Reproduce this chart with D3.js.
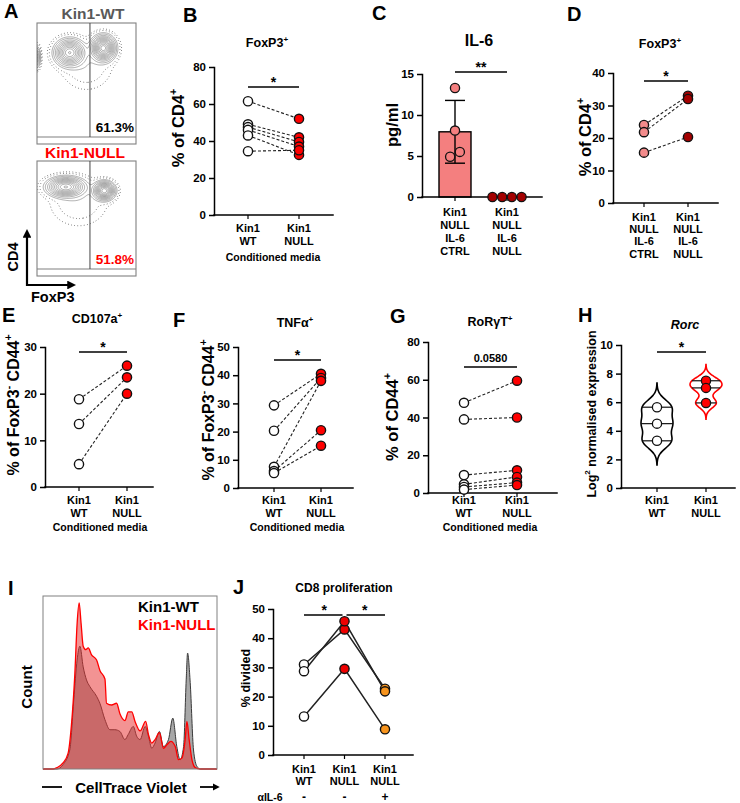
<!DOCTYPE html>
<html><head><meta charset="utf-8">
<script src="https://cdn.jsdelivr.net/npm/d3@7"></script>
<style>
body{margin:0;background:#fff;}
svg{display:block;font-family:"Liberation Sans",Arial,Helvetica,sans-serif;font-weight:bold;}
</style></head><body>
<svg id="fig" width="740" height="803"></svg>
<script>
// ================= DATA =================
// Panel A: flow populations [FoxP3 centre, CD4 centre, spread FoxP3, spread CD4, relative density]
const aTitles = ["Kin1-WT", "Kin1-NULL"];
const aPercents = ["61.3%", "51.8%"];
const aGateFoxP3 = 53.5;
const aWTPopulations = [[33,74,7.5,5.8,1.0],[67,78,6,5.5,1.2],[0,70,2,5,0.35],[50,62,15,12,0.05]];
const aNULLPopulations = [[29,76,9.5,4.5,1.0],[68,72.5,5.3,4.2,1.1],[42,62,17,13,0.05]];
const aContourLevels = [0.012,0.025,0.06,0.1,0.16,0.23,0.31,0.4,0.5,0.61,0.73,0.86,1.0,1.12];

// Panel B
const bCategories = [["Kin1","WT"],["Kin1","NULL"]];
const bTicks = [0,20,40,60,80];
const bWT   = [61.5,49,47.5,46,43,34.5];
const bNULL = [52,42,39.5,37,32.5,35];

// Panel C
const cCategories = [["Kin1","NULL","IL-6","CTRL"],["Kin1","NULL","IL-6","NULL"]];
const cTicks = [0,5,10,15];
const cCTRL = [13.3,8.1,5.5,4.9];
const cNULL = [0,0,0,0];

// Panel D
const dCategories = [["Kin1","NULL","IL-6","CTRL"],["Kin1","NULL","IL-6","NULL"]];
const dTicks = [0,10,20,30,40];
const dCTRL = [24,21.8,15.5];
const dNULL = [33,32,20.3];

// Panel E
const eCategories = [["Kin1","WT"],["Kin1","NULL"]];
const eTicks = [0,10,20,30];
const eWT   = [18.8,13.5,4.9];
const eNULL = [26,23.5,20];

// Panel F
const fCategories = [["Kin1","WT"],["Kin1","NULL"]];
const fTicks = [0,10,20,30,40,50];
const fWT   = [29.3,20.3,7.5,6,5.3];
const fNULL = [40.5,39,38,20.5,15];

// Panel G
const gCategories = [["Kin1","WT"],["Kin1","NULL"]];
const gTicks = [0,20,40,60,80];
const gWT   = [47.8,39,9.5,4.6,3.2,1.8];
const gNULL = [59.5,40,12,8.5,5.5,4.2];

// Panel H
const hCategories = [["Kin1","WT"],["Kin1","NULL"]];
const hTicks = [0,2,4,6,8,10];
const hWT   = [5.65,4.5,3.3];
const hNULL = [7.5,7.0,5.95];

// Panel I (histograms: channel 0-100, count 0-100)
const iChannelWT = [0,8,11.5,15.4,17.7,19.6,21.2,23.1,25,26.9,30.8,32.7,35.6,38.5,41.3,44.2,47.1,49,51.9,53.8,55.8,58.7,60.6,62.5,64.4,66.9,69.2,72.1,74.6,76.9,78.8,80.8,82.3,83.1,84.6,86.5,88.5,90.4,100];
const iCountWT   = [0,0,2.5,11,40,63,71,59,51.5,47.7,42,38,28.5,22.7,22.7,21.7,17,20,24.6,19,17,24.6,19,12,15,21.7,13,17,29.4,13,5.4,13,51.5,67,50,11,1.5,0,0];
const iChannelNULL = [0,6,8,11.5,14.4,16.3,18.3,19.6,20.8,21.9,23.1,24.6,26,27.9,30.8,32.7,35.6,36.5,39.4,42.3,44.2,47.1,49,51,52.9,55.8,59,60.6,62.5,64.4,66.9,69.2,71.2,73.5,76,77.9,79.8,81.7,82.7,84,85.6,87.5,90.4,100];
const iCountNULL   = [0,0,0.8,3.5,9,25,55,84,96,84,71,69,70,66,63,57,52,38,37,38,32,28,33,33,27.5,22,27.5,20,15,17,21,12,14,16,13,5.4,6.3,17,27.5,17,5.4,0.8,0,0];
const iLegend = ["Kin1-WT","Kin1-NULL"];

// Panel J
const jCategories = [["Kin1","WT"],["Kin1","NULL"],["Kin1","NULL"]];
const jTreatment = ["-","-","+"];
const jTicks = [0,10,20,30,40,50];
const jWT      = [31,28.7,13.2];
const jNULL    = [43,45.8,29.5];
const jAntiIL6 = [22.7,21.8,8.8];

// ================= HELPERS =================
const svg = d3.select('#fig');
const RED = '#ff0000';
const defs = svg.append('defs');
defs.append('marker').attr('id', 'arr').attr('viewBox', '0 0 10 10').attr('refX', 2).attr('refY', 5)
  .attr('markerWidth', 4).attr('markerHeight', 4).attr('orient', 'auto-start-reverse')
  .append('path').attr('d', 'M0,0L10,5L0,10Z').attr('fill', '#000');

function rich(t, segs, fs){
  let shift = 0;
  segs.forEach(s => {
    const [txt, kind] = Array.isArray(s) ? s : [s, null];
    const target = kind === 'sup' ? -fs*0.42 : 0;
    const ts = t.append('tspan').text(txt).attr('dy', target - shift);
    if (kind) ts.attr('font-size', fs*0.65);
    shift = target;
  });
  return t;
}
function text(g, x, y, segs, fs, o = {}){
  const t = g.append('text').attr('x', x).attr('y', y).attr('font-size', fs)
    .attr('text-anchor', o.anchor || 'middle').attr('fill', o.fill || '#000');
  if (o.italic) t.attr('font-style', 'italic');
  rich(t, segs, fs);
  return t;
}
function vtext(g, cx, cy, segs, fs){
  const x = cx + fs*0.36;
  const t = g.append('text').attr('x', x).attr('y', cy).attr('font-size', fs)
    .attr('text-anchor', 'middle').attr('transform', `rotate(-90,${x},${cy})`);
  rich(t, segs, fs);
  return t;
}
function styleYAxis(a){
  a.attr('font-family', null).attr('font-size', 11.5).attr('font-weight', 'bold');
  a.select('.domain').attr('stroke', '#000').attr('stroke-width', 1.5).attr('stroke-linecap', 'square');
  a.selectAll('.tick line').attr('stroke', '#000').attr('stroke-width', 1.5);
  a.selectAll('.tick text').attr('fill', '#000');
}
function panelLetter(x, y, l){ text(svg, x, y, [l], 20, {anchor:'start'}); }

function frame(g, c, y, x){
  const ya = g.append('g').attr('transform', `translate(${c.axisX},0)`)
    .call(d3.axisLeft(y).tickValues(c.ticks).tickSize(5).tickSizeOuter(0).tickPadding(3));
  styleYAxis(ya);
  g.append('line').attr('x1', c.axisX).attr('x2', c.xEnd).attr('y1', y(0)).attr('y2', y(0))
    .attr('stroke', '#000').attr('stroke-width', 1.5).attr('stroke-linecap', 'square');
  g.selectAll(null).data(x.domain()).join('line')
    .attr('x1', d => x(d)).attr('x2', d => x(d)).attr('y1', y(0)).attr('y2', y(0) + 4)
    .attr('stroke', '#000').attr('stroke-width', 1.2);
  c.cats.forEach((lines, k) => {
    const t = g.append('text').attr('text-anchor', 'middle').attr('font-size', 11).attr('y', c.catY);
    lines.forEach((l, i) => t.append('tspan').attr('x', x(k)).attr('dy', i ? c.catGap : 0).text(l));
  });
  if (c.footer) text(g, c.footerX, c.footerY, [c.footer], 10.5);
  if (c.title) text(g, c.titleX, c.titleY, c.title, c.titleSize || 12.5, {italic: c.titleItalic});
  vtext(g, c.ylabX, c.ylabY, c.ylab, c.ylabSize || 16.5);
  (c.sig || []).forEach(s => {
    g.append('line').attr('x1', x(s.from) + (s.padL || 0)).attr('x2', x(s.to) - (s.padR || 0))
      .attr('y1', s.y).attr('y2', s.y).attr('stroke', '#000').attr('stroke-width', 1.5);
    text(g, (x(s.from) + x(s.to)) / 2, s.y - (s.up || 0), [s.text], s.size || 14);
  });
}

function pairPanel(c){
  const g = svg.append('g');
  const y = d3.scaleLinear().domain([0, c.yMax]).range([c.y0, c.yTop]);
  const x = d3.scalePoint().domain(d3.range(c.series.length)).range(c.catRange);
  frame(g, c, y, x);
  const n = c.series[0].length;
  const line = d3.line();
  for (let i = 0; i < n; i++) {
    const pts = c.series.map((s, k) => [x(k), y(s[i])]);
    g.append('path').attr('d', line(pts)).attr('fill', 'none').attr('stroke', '#222')
      .attr('stroke-width', c.dashed ? 1.1 : 1.5).attr('stroke-dasharray', c.dashed ? '3,2' : null);
  }
  c.series.forEach((s, k) => {
    g.selectAll(null).data(s).join('circle').attr('cx', x(k)).attr('cy', d => y(d)).attr('r', 4.6)
      .attr('fill', c.fills[k]).attr('stroke', '#111').attr('stroke-width', 1.4);
  });
  return {g, x, y};
}

// ================= PANEL A =================
(function(){
  const g = svg.append('g');
  const boxes = [
    {top: 23, inner: 137, bottom: 144, pops: aWTPopulations, pct: aPercents[0], pctFill: '#000', title: aTitles[0], titleFill: '#595959', titleY: 19, titleX: 93},
    {top: 161, inner: 269, bottom: 276, pops: aNULLPopulations, pct: aPercents[1], pctFill: RED, title: aTitles[1], titleFill: RED, titleY: 158, titleX: 85}
  ];
  const nx = 120, ny = 120;
  boxes.forEach(b => {
    const xs = d3.scaleLinear().domain([0, 100]).range([37, 136]);
    const ys = d3.scaleLinear().domain([0, 100]).range([b.inner, b.top]);
    const vals = new Float64Array(nx * ny);
    for (let j = 0; j < ny; j++) for (let i = 0; i < nx; i++) {
      const fx = (i + 0.5) / nx * 100, cy = 100 - (j + 0.5) / ny * 100;
      let v = 0;
      b.pops.forEach(([mx, my, sx, sy, w]) => {
        v += w * Math.exp(-((fx - mx) ** 2) / (2 * sx * sx) - ((cy - my) ** 2) / (2 * sy * sy));
      });
      vals[i + j * nx] = v;
    }
    const proj = d3.geoTransform({point: function(px, py){ this.stream.point(xs(px / nx * 100), ys(100 - py / ny * 100)); }});
    const path = d3.geoPath(proj);
    const cont = d3.contours().size([nx, ny]).thresholds(aContourLevels)(vals);
    const clipId = 'clip' + b.top;
    g.append('clipPath').attr('id', clipId).append('rect').attr('x', 37).attr('y', b.top).attr('width', 99).attr('height', b.inner - b.top);
    const cg = g.append('g').attr('clip-path', `url(#${clipId})`);
    cg.selectAll(null).data(cont).join('path').attr('d', path).attr('fill', 'none')
      .attr('stroke', d => d.value < 0.05 ? '#222' : '#6a6a6a')
      .attr('stroke-width', d => d.value < 0.05 ? 0.9 : 0.55)
      .attr('stroke-dasharray', d => d.value < 0.05 ? '0.6,2.6' : null);
    g.append('rect').attr('x', 37).attr('y', b.top).attr('width', 99).attr('height', b.bottom - b.top)
      .attr('fill', 'none').attr('stroke', '#808080').attr('stroke-width', 1.1);
    g.append('line').attr('x1', 37).attr('x2', 136).attr('y1', b.inner).attr('y2', b.inner).attr('stroke', '#808080').attr('stroke-width', 1.1);
    g.append('line').attr('x1', xs(aGateFoxP3)).attr('x2', xs(aGateFoxP3)).attr('y1', b.top).attr('y2', b.inner).attr('stroke', '#444').attr('stroke-width', 1);
    text(g, 134, b.inner - 5, [b.pct], 13.5, {anchor: 'end', fill: b.pctFill});
    text(g, b.titleX, b.titleY, [b.title], 15.5, {fill: b.titleFill});
  });
  g.append('path').attr('d', 'M27,236V285H69').attr('fill', 'none').attr('stroke', '#000').attr('stroke-width', 2.2)
    .attr('marker-start', 'url(#arr)').attr('marker-end', 'url(#arr)');
  vtext(g, 13, 257, ['CD4'], 14.5);
  text(g, 31, 302, ['FoxP3'], 14.5, {anchor: 'start'});
})();
panelLetter(4, 18, 'A');

// ================= PANEL B =================
pairPanel({axisX: 214, y0: 215, yTop: 67, yMax: 80, ticks: bTicks, catRange: [248, 299], xEnd: 333,
  series: [bWT, bNULL], fills: ['#fff', RED], dashed: true, cats: bCategories, catY: 232, catGap: 12.5,
  footer: 'Conditioned media', footerX: 273, footerY: 261,
  title: ['FoxP3', ['+', 'sup']], titleX: 267, titleY: 47,
  ylab: ['% of CD4', ['+', 'sup']], ylabX: 178, ylabY: 128,
  sig: [{from: 0, to: 1, y: 87, text: '*', up: 0}]});
panelLetter(183, 22, 'B');

// ================= PANEL C =================
(function(){
  const g = svg.append('g');
  const c = {axisX: 422, xEnd: 542, ticks: cTicks, cats: cCategories, catY: 216, catGap: 13,
    title: ['IL-6'], titleX: 479, titleY: 46, titleSize: 16,
    ylab: ['pg/ml'], ylabX: 392, ylabY: 125,
    sig: [{from: 0, to: 1, y: 72, text: '**', up: 0}]};
  const y = d3.scaleLinear().domain([0, 15]).range([197, 74]);
  const x = d3.scalePoint().domain([0, 1]).range([455, 507]);
  const groups = [cCTRL, cNULL];
  const fills = ['#f47f7f', '#a30000'];
  groups.forEach((vals, k) => {
    const m = d3.mean(vals), sd = d3.deviation(vals);
    if (m > 0) {
      g.append('rect').attr('x', x(k) - 16).attr('width', 32).attr('y', y(m)).attr('height', y(0) - y(m))
        .attr('fill', fills[k]).attr('stroke', '#000').attr('stroke-width', 1.4);
      g.append('line').attr('x1', x(k)).attr('x2', x(k)).attr('y1', y(m + sd)).attr('y2', y(m - sd)).attr('stroke', '#000').attr('stroke-width', 1.4);
      [m + sd, m - sd].forEach(v => g.append('line').attr('x1', x(k) - 10).attr('x2', x(k) + 10).attr('y1', y(v)).attr('y2', y(v)).attr('stroke', '#000').attr('stroke-width', 1.4));
    }
  });
  frame(g, c, y, x);
  groups.forEach((vals, k) => {
    const sorted = vals.map(v => v).sort(d3.ascending);
    const clusters = [];
    sorted.forEach(v => {
      const last = clusters[clusters.length - 1];
      if (last && Math.abs(y(last[last.length - 1]) - y(v)) < 8) last.push(v); else clusters.push([v]);
    });
    clusters.forEach(cl => cl.forEach((v, i) => {
      const off = (i - (cl.length - 1) / 2) * 9.7;
      g.append('circle').attr('cx', x(k) + off).attr('cy', y(v)).attr('r', 4.6)
        .attr('fill', fills[k]).attr('stroke', '#111').attr('stroke-width', 1.3);
    }));
  });
})();
panelLetter(372, 20, 'C');

// ================= PANEL D =================
pairPanel({axisX: 613, y0: 203, yTop: 73, yMax: 40, ticks: dTicks, catRange: [644, 688], xEnd: 718,
  series: [dCTRL, dNULL], fills: ['#f28b8b', '#a30000'], dashed: true, cats: dCategories, catY: 221, catGap: 12.2,
  title: ['FoxP3', ['+', 'sup']], titleX: 660, titleY: 48,
  ylab: ['% of CD4', ['+', 'sup']], ylabX: 585, ylabY: 137,
  sig: [{from: 0, to: 1, y: 81, text: '*', up: 0}]});
panelLetter(567, 21, 'D');

// ================= PANEL E =================
pairPanel({axisX: 45, y0: 487, yTop: 347, yMax: 30, ticks: eTicks, catRange: [79, 127], xEnd: 153,
  series: [eWT, eNULL], fills: ['#fff', RED], dashed: true, cats: eCategories, catY: 504, catGap: 12.5,
  footer: 'Conditioned media', footerX: 100, footerY: 531,
  title: ['CD107a', ['+', 'sup']], titleX: 97, titleY: 323,
  ylab: ['% of FoxP3', ['-', 'sup'], ' CD44', ['+', 'sup']], ylabX: 13, ylabY: 405, ylabSize: 16,
  sig: [{from: 0, to: 1, y: 352, text: '*', up: 0}]});
panelLetter(2, 322, 'E');

// ================= PANEL F =================
pairPanel({axisX: 238, y0: 488, yTop: 347, yMax: 50, ticks: fTicks, catRange: [274, 321], xEnd: 353,
  series: [fWT, fNULL], fills: ['#fff', RED], dashed: true, cats: fCategories, catY: 504, catGap: 12.5,
  footer: 'Conditioned media', footerX: 297, footerY: 531,
  title: ['TNFα', ['+', 'sup']], titleX: 295, titleY: 327,
  ylab: ['% of FoxP3', ['-', 'sup'], ' CD44', ['+', 'sup']], ylabX: 208, ylabY: 410, ylabSize: 16,
  sig: [{from: 0, to: 1, y: 360, text: '*', up: 0}]});
panelLetter(173, 327, 'F');

// ================= PANEL G =================
pairPanel({axisX: 428, y0: 493, yTop: 342, yMax: 80, ticks: gTicks, catRange: [464, 517], xEnd: 557,
  series: [gWT, gNULL], fills: ['#fff', RED], dashed: true, cats: gCategories, catY: 504, catGap: 12.5,
  footer: 'Conditioned media', footerX: 490, footerY: 531,
  title: ['RoRγT', ['+', 'sup']], titleX: 490, titleY: 326,
  ylab: ['% of CD44', ['+', 'sup']], ylabX: 392, ylabY: 417,
  sig: [{from: 0, to: 1, y: 367, text: '0.0580', up: 5, size: 11}]});
panelLetter(390, 323, 'G');

// ================= PANEL H =================
(function(){
  const g = svg.append('g');
  const c = {axisX: 621, xEnd: 735, ticks: hTicks, cats: hCategories, catY: 504, catGap: 12.5,
    title: ['Rorc'], titleX: 685, titleY: 329, titleItalic: true,
    ylab: ['Log', ['2', 'sup'], ' normalised expression'], ylabX: 591, ylabY: 414, ylabSize: 12.5,
    sig: [{from: 0, to: 1, y: 352, text: '*', up: 0}]};
  const y = d3.scaleLinear().domain([0, 10]).range([488, 345]);
  const x = d3.scalePoint().domain([0, 1]).range([657, 706]);
  frame(g, c, y, x);
  const groups = [hWT, hNULL];
  const strokes = ['#000', RED];
  const fills = ['#fff', RED];
  function quart(v){
    const s = [...v].sort(d3.ascending), n = s.length;
    const q = p => { const pos = (n + 1) * p; if (pos <= 1) return s[0]; if (pos >= n) return s[n - 1];
      const lo = Math.floor(pos); return s[lo - 1] + (pos - lo) * (s[lo] - s[lo - 1]); };
    return [q(0.25), q(0.5), q(0.75)];
  }
  groups.forEach((vals, k) => {
    const qs = quart(vals);
    const bw = 0.62 * 0.9 * Math.min(d3.deviation(vals), (qs[2] - qs[0]) / 1.34) * Math.pow(vals.length, -0.2);
    const dens = t => d3.sum(vals, v => Math.exp(-0.5 * ((t - v) / bw) ** 2));
    const lo = d3.min(vals) - 3.2 * bw, hi = d3.max(vals) + 3.2 * bw;
    const grid = d3.range(0, 81).map(i => lo + (hi - lo) * i / 80);
    const maxD = d3.max(grid, dens);
    const w = d3.scaleLinear().domain([0, maxD]).range([0, 16]);
    const area = d3.area().y(t => y(t)).x0(t => x(k) - w(dens(t))).x1(t => x(k) + w(dens(t))).curve(d3.curveBasis);
    g.append('path').attr('d', area(grid)).attr('fill', '#fff').attr('stroke', strokes[k]).attr('stroke-width', 1.6);
    qs.forEach(q => g.append('line').attr('x1', x(k) - w(dens(q))).attr('x2', x(k) + w(dens(q)))
      .attr('y1', y(q)).attr('y2', y(q)).attr('stroke', '#111').attr('stroke-width', 1.2));
    g.selectAll(null).data(vals).join('circle').attr('cx', x(k)).attr('cy', d => y(d)).attr('r', 4.6)
      .attr('fill', fills[k]).attr('stroke', '#111').attr('stroke-width', 1.3);
  });
})();
panelLetter(578, 322, 'H');

// ================= PANEL I =================
(function(){
  const g = svg.append('g');
  const x = d3.scaleLinear().domain([0, 100]).range([43, 217]);
  const y = d3.scaleLinear().domain([0, 100]).range([769, 596]);
  const areaOf = (xs, ys) => d3.area().x((d, i) => x(xs[i])).y0(y(0)).y1((d, i) => y(ys[i])).curve(d3.curveMonotoneX)(ys);
  const lineOf = (xs, ys) => d3.line().x((d, i) => x(xs[i])).y((d, i) => y(ys[i])).curve(d3.curveMonotoneX)(ys);
  g.append('path').attr('d', areaOf(iChannelWT, iCountWT)).attr('fill', '#a8a8a8');
  g.append('path').attr('d', lineOf(iChannelWT, iCountWT)).attr('fill', 'none').attr('stroke', '#3a3a3a').attr('stroke-width', 1);
  g.append('path').attr('d', areaOf(iChannelNULL, iCountNULL)).attr('fill', '#e83030').attr('fill-opacity', 0.52);
  g.append('path').attr('d', lineOf(iChannelNULL, iCountNULL)).attr('fill', 'none').attr('stroke', RED).attr('stroke-width', 1.3);
  g.append('rect').attr('x', 43).attr('y', 596).attr('width', 174).attr('height', 173).attr('fill', 'none').attr('stroke', '#808080').attr('stroke-width', 1);
  text(g, 138, 612, [iLegend[0]], 15, {anchor: 'start'});
  text(g, 138, 630, [iLegend[1]], 15, {anchor: 'start', fill: RED});
  vtext(g, 27, 687, ['Count'], 15);
  text(g, 131, 793, ['CellTrace Violet'], 15);
  g.append('line').attr('x1', 42).attr('x2', 62).attr('y1', 787).attr('y2', 787).attr('stroke', '#000').attr('stroke-width', 1.8);
  g.append('path').attr('d', 'M200,787H214').attr('stroke', '#000').attr('stroke-width', 1.8).attr('marker-end', 'url(#arr)');
})();
panelLetter(8, 595, 'I');

// ================= PANEL J =================
(function(){
  const p = pairPanel({axisX: 273, y0: 755, yTop: 609, yMax: 50, ticks: jTicks, catRange: [304, 385], xEnd: 413,
    series: [jWT, jNULL, jAntiIL6], fills: ['#fff', '#ee0000', '#f7941d'], dashed: false, cats: jCategories, catY: 773, catGap: 12,
    title: ['CD8 proliferation'], titleX: 344, titleY: 592, titleSize: 12,
    ylab: ['% divided'], ylabX: 245, ylabY: 678, ylabSize: 12.5,
    sig: [{from: 0, to: 1, y: 615, text: '*', padR: 2}, {from: 1, to: 2, y: 615, text: '*', padL: 2}]});
  text(p.g, 270, 801, ['αIL-6'], 10.5);
  jTreatment.forEach((t, k) => text(p.g, p.x(k), 801, [t], 12));
})();
panelLetter(233, 594, 'J');
</script></body></html>
